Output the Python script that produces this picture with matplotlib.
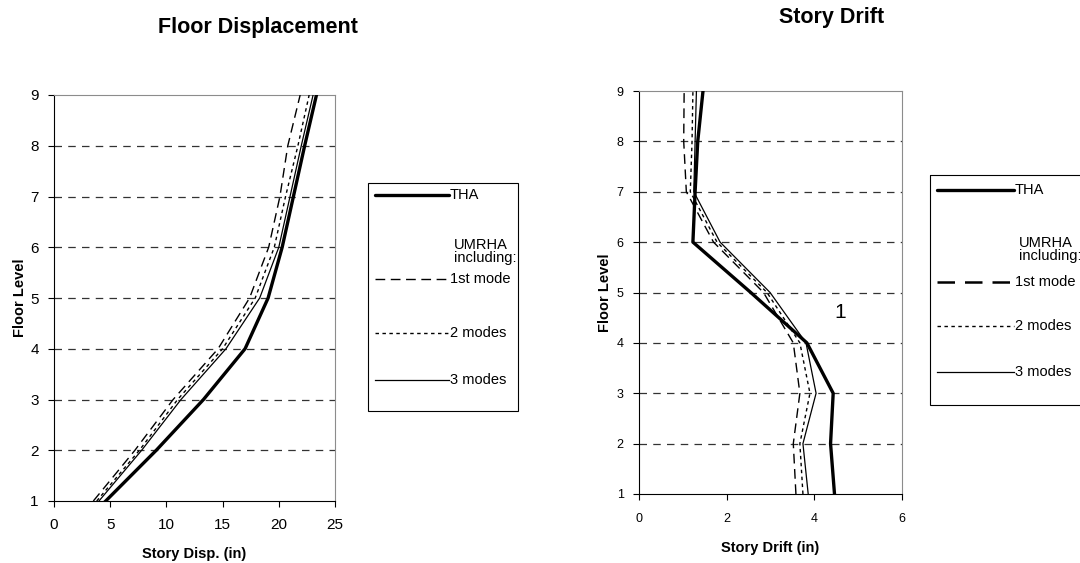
import numpy as np
import matplotlib
matplotlib.use('Agg')
import matplotlib.pyplot as plt
from matplotlib.lines import Line2D
from matplotlib.patches import Rectangle

plt.rcParams['font.family'] = ['Liberation Sans', 'DejaVu Sans']

# 楼层
floors = [1, 2, 3, 4, 5, 6, 7, 8, 9]

# 楼层位移 (in)
disp_tha = [4.6, 9.1, 13.3, 17.0, 19.05, 20.3, 21.3, 22.3, 23.35]
disp_1mode = [3.5, 7.2, 10.6, 14.6, 17.4, 19.1, 20.1, 20.8, 21.9]
disp_2modes = [3.8, 7.6, 11.0, 15.0, 17.9, 19.6, 20.6, 21.7, 22.7]
disp_3modes = [4.0, 7.8, 11.3, 15.3, 18.3, 20.0, 21.0, 22.0, 23.05]

# 层间位移 (in)
drift_tha = [4.46, 4.37, 4.43, 3.83, 2.55, 1.23, 1.28, 1.34, 1.46]
drift_1mode = [3.58, 3.52, 3.67, 3.52, 2.84, 1.70, 1.08, 1.02, 1.03]
drift_2modes = [3.74, 3.67, 3.90, 3.67, 2.92, 1.78, 1.17, 1.21, 1.23]
drift_3modes = [3.86, 3.74, 4.04, 3.81, 2.99, 1.85, 1.25, 1.28, 1.31]

W, H = 1080, 563
fig = plt.figure(figsize=(W / 100, H / 100), dpi=100)


def px_axes(x0, y0, x1, y1):
    # 像素坐标(左上原点) -> figure 坐标
    return fig.add_axes([x0 / W, (H - y1) / H, (x1 - x0) / W, (y1 - y0) / H])


def style_axes(ax, xmax, xstep, tick_fs, xpad):
    ax.set_xlim(0, xmax)
    ax.set_ylim(1, 9)
    ax.set_xticks(np.arange(0, xmax + 0.1, xstep))
    ax.set_yticks(floors)
    for y in floors[1:-1]:
        ax.axhline(y, color='#333333', lw=0.9, ls=(0, (6, 5)), zorder=1)
    for s in ['top', 'right']:
        ax.spines[s].set_color('#8c8c8c')
    for s in ['left', 'bottom']:
        ax.spines[s].set_color('black')
    ax.tick_params(labelsize=tick_fs, length=4, width=0.8, pad=7)
    ax.tick_params(axis='x', pad=xpad)


def draw_series(ax, tha, m1, m2, m3):
    ax.plot(tha, floors, color='black', lw=2.4, zorder=4)
    ax.plot(m1, floors, color='black', lw=1.0, ls=(0, (7, 4)), zorder=3)
    ax.plot(m2, floors, color='black', lw=1.0, ls=(0, (2.5, 2.5)), zorder=3)
    ax.plot(m3, floors, color='black', lw=0.9, zorder=3)


# 左图
ax1 = px_axes(54, 95, 335, 501)
draw_series(ax1, disp_tha, disp_1mode, disp_2modes, disp_3modes)
style_axes(ax1, 25, 5, 11, 8)
ax1.set_ylabel('Floor Level', fontsize=10.5, fontweight='bold', labelpad=2)
ax1.set_xlabel('Story Disp. (in)', fontsize=10.5, fontweight='bold', labelpad=11)
fig.text(258 / W, 1 - 27 / H, 'Floor Displacement', ha='center', va='center',
         fontsize=15.5, fontweight='bold')

# 右图
ax2 = px_axes(639, 91, 902, 494)
draw_series(ax2, drift_tha, drift_1mode, drift_2modes, drift_3modes)
style_axes(ax2, 6, 2, 9, 10)
ax2.set_ylabel('Floor Level', fontsize=10.5, fontweight='bold', labelpad=3.5)
ax2.set_xlabel('Story Drift (in)', fontsize=10.5, fontweight='bold', labelpad=11)
ax2.text(4.6, 4.6, '1', fontsize=15, ha='center', va='center')
fig.text(832 / W, 1 - 17 / H, 'Story Drift', ha='center', va='center',
         fontsize=15.5, fontweight='bold')

# 图例(手工绘制)
lay = fig.add_axes([0, 0, 1, 1], facecolor='none')
lay.set_xlim(0, W)
lay.set_ylim(H, 0)
lay.set_axis_off()


def draw_legend(x0, y0, x1, y1, rows, line_x, dash_lw):
    lay.add_patch(Rectangle((x0, y0), x1 - x0, y1 - y0, fill=False,
                            ec='black', lw=0.8))
    lx0, lx1 = line_x
    ys = rows
    fs = 10.5
    lay.add_line(Line2D([lx0, lx1], [ys[0], ys[0]], color='black', lw=2.4,
                        solid_capstyle='round'))
    lay.text(lx1 + 1, ys[0], 'THA', fontsize=fs, va='center')
    lay.text(lx1 + 5, ys[1], 'UMRHA', fontsize=fs, va='center')
    lay.text(lx1 + 5, ys[2], 'including:', fontsize=fs, va='center')
    lay.add_line(Line2D([lx0, lx1], [ys[3], ys[3]], color='black', lw=dash_lw,
                        ls=(0, (7, 4))))
    lay.text(lx1 + 1, ys[3], '1st mode', fontsize=fs, va='center')
    lay.add_line(Line2D([lx0, lx1], [ys[4], ys[4]], color='black', lw=1.0,
                        ls=(0, (2.5, 2.5))))
    lay.text(lx1 + 1, ys[4], '2 modes', fontsize=fs, va='center')
    lay.add_line(Line2D([lx0, lx1], [ys[5], ys[5]], color='black', lw=0.9))
    lay.text(lx1 + 1, ys[5], '3 modes', fontsize=fs, va='center')


draw_legend(368, 183, 518, 411, [195, 245, 258, 279, 333, 380], (375, 449), 1.0)
draw_legend(930, 175, 1095, 405, [190, 243, 256, 282, 326, 372], (937, 1014), 1.8)

fig.savefig('out.png', dpi=100)
